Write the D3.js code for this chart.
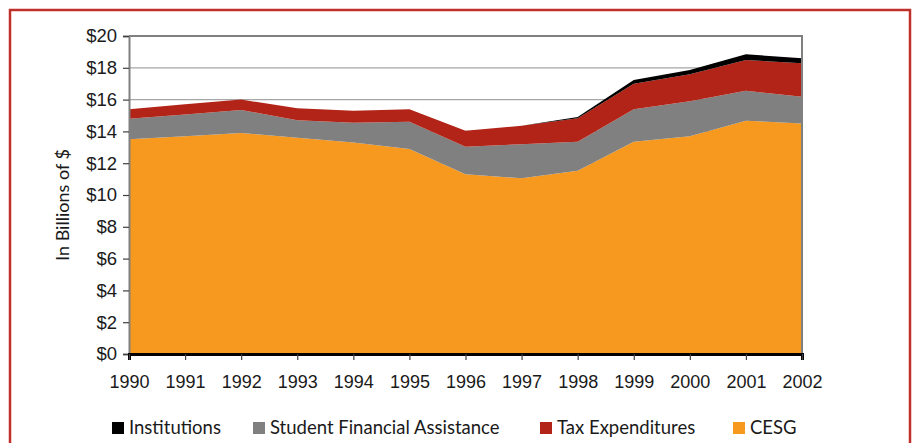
<!DOCTYPE html>
<html>
<head>
<meta charset="utf-8">
<script src="https://cdn.jsdelivr.net/npm/d3@7"></script>
<style>
  html, body { margin: 0; padding: 0; background: #fff; }
  svg { display: block; font-family: Lato, "Open Sans", sans-serif; }
</style>
</head>
<body>
<svg id="chart" width="916" height="443"></svg>
<script>
// years on the x axis
const years = [1990, 1991, 1992, 1993, 1994, 1995, 1996, 1997, 1998, 1999, 2000, 2001, 2002];

// series values, billions of $ (stacked bottom to top)
const cesg        = [13.5, 13.7, 13.9, 13.6, 13.3, 12.9, 11.3, 11.05, 11.53, 13.35, 13.7, 14.67, 14.5];
const studentAid  = [1.3, 1.37, 1.45, 1.1, 1.25, 1.7, 1.74, 2.14, 1.82, 2.05, 2.2, 1.89, 1.68];
const taxExpend   = [0.6, 0.63, 0.65, 0.75, 0.75, 0.8, 1.0, 1.17, 1.47, 1.6, 1.7, 1.93, 2.1];
const institutions = [0, 0, 0, 0, 0, 0, 0, 0, 0.08, 0.23, 0.26, 0.36, 0.32];

const yTicks = [0, 2, 4, 6, 8, 10, 12, 14, 16, 18, 20];

const seriesKeys = ["CESG", "Student Financial Assistance", "Tax Expenditures", "Institutions"];
const colors = {
  "CESG": "#f7991e",
  "Student Financial Assistance": "#808080",
  "Tax Expenditures": "#b22418",
  "Institutions": "#000000"
};
const legendOrder = ["Institutions", "Student Financial Assistance", "Tax Expenditures", "CESG"];

// build table rows for d3.stack
const rows = years.map((yr, i) => ({
  year: yr,
  "CESG": cesg[i],
  "Student Financial Assistance": studentAid[i],
  "Tax Expenditures": taxExpend[i],
  "Institutions": institutions[i]
}));

const svg = d3.select("#chart");

// outer red frame
svg.append("rect")
  .attr("x", 10).attr("y", 10)
  .attr("width", 900).attr("height", 460)
  .attr("fill", "#fff")
  .attr("stroke", "#c0302a")
  .attr("stroke-width", 2.5);

const plotL = 129, plotR = 802, plotT = 36, plotB = 354;

const x = d3.scaleLinear().domain([1990, 2002]).range([plotL, plotR]);
const y = d3.scaleLinear().domain([0, 20]).range([plotB, plotT]);

// gridlines
svg.append("g")
  .selectAll("line")
  .data(yTicks.filter(d => d > 0 && d < 20))
  .join("line")
    .attr("x1", plotL).attr("x2", plotR)
    .attr("y1", d => y(d)).attr("y2", d => y(d))
    .attr("stroke", "#a6a6a6")
    .attr("stroke-width", 1.2);

const stacked = d3.stack().keys(seriesKeys)(rows);

const area = d3.area()
  .x(d => x(d.data.year))
  .y0(d => y(d[0]))
  .y1(d => y(d[1]));

svg.append("g")
  .selectAll("path")
  .data(stacked)
  .join("path")
    .attr("d", area)
    .attr("fill", d => colors[d.key]);

// plot border (top + right)
svg.append("path")
  .attr("d", `M${plotL},${plotT}H${plotR}V${plotB}`)
  .attr("fill", "none")
  .attr("stroke", "#808080")
  .attr("stroke-width", 2);

// y axis
const yAxis = svg.append("g")
  .attr("transform", `translate(${plotL},0)`)
  .call(d3.axisLeft(y).tickValues(yTicks).tickFormat(d => "$" + d).tickSize(6).tickPadding(6));
yAxis.select(".domain").attr("stroke", "#808080").attr("stroke-width", 2);
yAxis.selectAll(".tick line").attr("stroke", "#404040").attr("stroke-width", 1.2);
yAxis.selectAll("text").attr("font-size", 18.5).attr("fill", "#1a1a1a");

// x axis
const xAxis = svg.append("g")
  .attr("transform", `translate(0,${plotB})`)
  .call(d3.axisBottom(x).tickValues(years).tickFormat(d3.format("d")).tickSize(6).tickPadding(15));
xAxis.select(".domain").attr("stroke", "#000").attr("stroke-width", 3);
xAxis.selectAll(".tick line").attr("stroke", "#404040").attr("stroke-width", 1.2);
xAxis.selectAll("text").attr("font-size", 18).attr("fill", "#1a1a1a");

// y axis title
svg.append("text")
  .attr("transform", `translate(69,205) rotate(-90)`)
  .attr("text-anchor", "middle")
  .attr("font-size", 18)
  .attr("fill", "#1a1a1a")
  .text("In Billions of $");

// legend
const legendX = [112, 253, 540, 733];
const legend = svg.append("g")
  .selectAll("g")
  .data(legendOrder)
  .join("g")
    .attr("transform", (d, i) => `translate(${legendX[i]},422)`);
legend.append("rect")
  .attr("width", 12).attr("height", 12)
  .attr("fill", d => colors[d]);
legend.append("text")
  .attr("x", 17).attr("y", 11.5)
  .attr("font-size", 18.5)
  .attr("fill", "#1a1a1a")
  .text(d => d);
</script>
</body>
</html>
